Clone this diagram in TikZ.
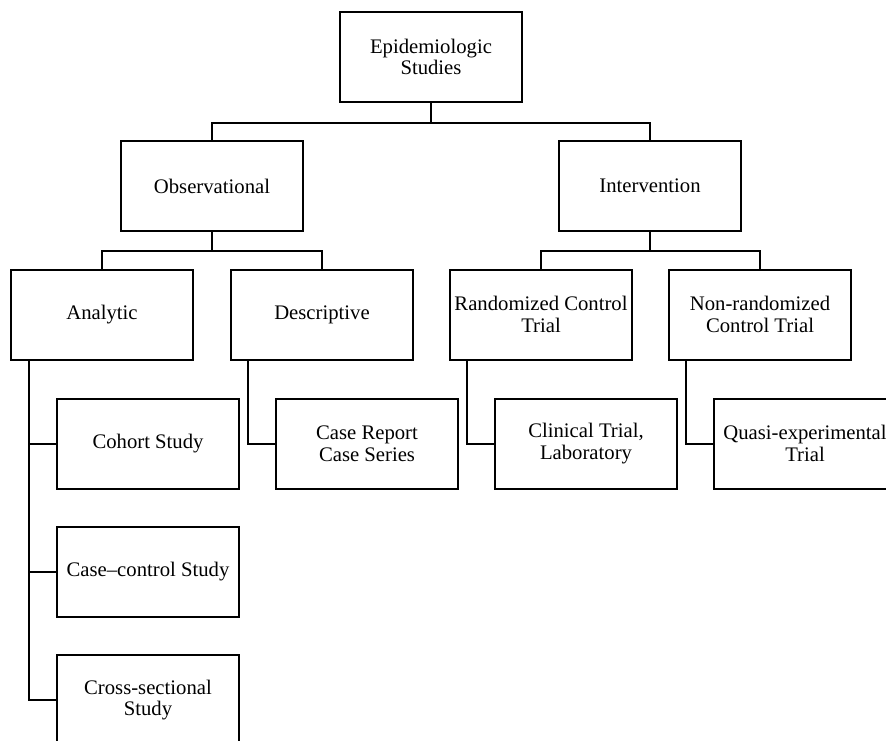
\documentclass[tikz,border=0pt]{standalone}
\usepackage{fontspec}
\setmainfont{Liberation Serif}
\usepackage{tikz}

\begin{document}
\begin{tikzpicture}[x=0.5pt,y=-0.5pt,line width=1pt,every node/.style={shape=rectangle,draw,align=center,inner sep=0pt,minimum width=91pt,minimum height=45pt,font=\fontsize{10.35}{10.9}\selectfont}]
  \clip (0,0) rectangle (886,740);
  \node (epi) at (431,57) {Epidemiologic\\Studies};
  \node (obs) at (212,186) {Observational};
  \node (int) at (650,186) {Intervention};
  \node (ana) at (102,314.5) {Analytic};
  \node (desc) at (322,314.5) {Descriptive};
  \node (rct) at (541,314.5) {Randomized Control\\Trial};
  \node (nrct) at (760,314.5) {Non-randomized\\Control Trial};
  \node (cohort) at (148,443.5) {Cohort Study};
  \node (cc) at (148,572) {Case–control Study};
  \node (cross) at (148,700) {Cross-sectional\\Study};
  \node (report) at (367,443.5) {Case Report\\Case Series};
  \node (clin) at (586,443.5) {Clinical Trial,\\Laboratory};
  \node (quasi) at (805,443.5) {Quasi-experimental\\Trial};
  % bus lines
  \draw (epi.south) -- ++(0,20) -| (obs.north);
  \draw (epi.south) -- ++(0,20) -| (int.north);
  \draw (obs.south) -- ++(0,19) -| (ana.north);
  \draw (obs.south) -- ++(0,19) -| (desc.north);
  \draw (int.south) -- ++(0,19) -| (rct.north);
  \draw (int.south) -- ++(0,19) -| (nrct.north);
  % side spines
  \foreach \c in {cohort,cc,cross}
    \draw (ana.south west) ++(19,0) |- (\c.west);
  \draw (desc.south west) ++(18,0) |- (report.west);
  \draw (rct.south west) ++(18,0) |- (clin.west);
  \draw (nrct.south west) ++(18,0) |- (quasi.west);
\end{tikzpicture}
\end{document}
